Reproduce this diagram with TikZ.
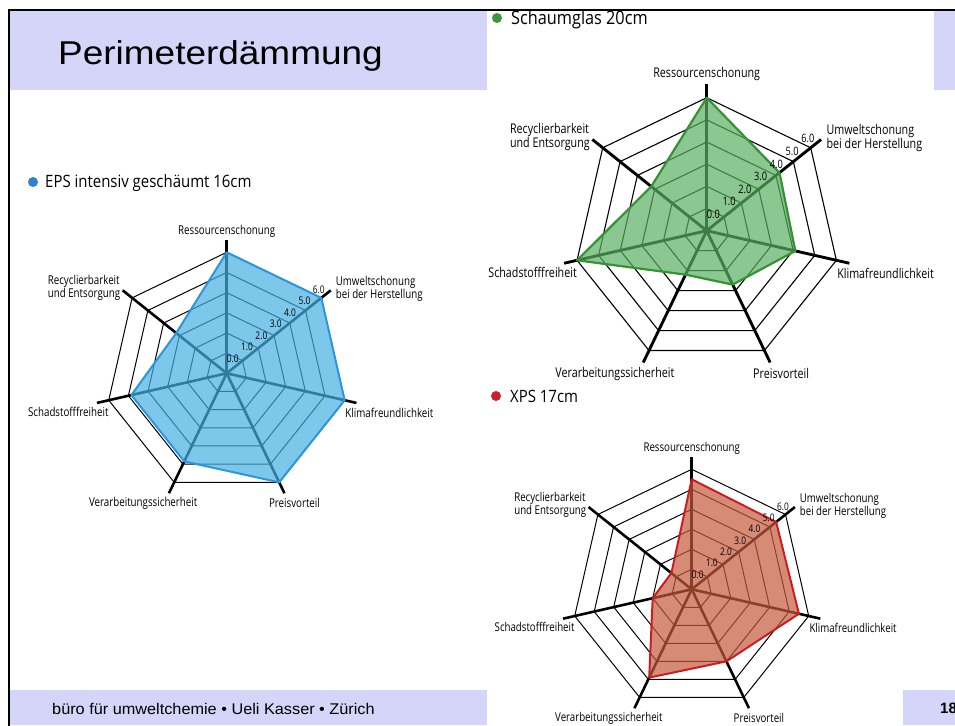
\documentclass[tikz,border=0pt]{standalone}
\usepackage{fontspec}
\setmainfont{Liberation Sans}
\newfontfamily\titlefont[FakeStretch=1.12]{Liberation Sans}
\newfontfamily\footfont[FakeStretch=1.05]{Liberation Sans}
\newfontfamily\chartfont[FakeStretch=0.8]{Open Sans}
\newfontfamily\headfont[FakeStretch=0.88]{Open Sans}

\definecolor{band}{RGB}{213,213,250}
\definecolor{epsfill}{RGB}{69,176,226}
\definecolor{epsline}{RGB}{45,150,220}
\definecolor{epsdot}{RGB}{50,130,195}
\definecolor{sgfill}{RGB}{91,176,98}
\definecolor{sgline}{RGB}{55,145,55}
\definecolor{sgdot}{RGB}{60,150,60}
\definecolor{xpsfill}{RGB}{198,91,62}
\definecolor{xpsline}{RGB}{200,30,35}
\definecolor{xpsdot}{RGB}{200,35,40}

\tikzset{
  lbl/.style={inner sep=0pt, font={\chartfont\fontsize{\rcfs}{\rcfb}\selectfont}},
  scl/.style={inner sep=0pt, font={\chartfont\fontsize{\rcfsc}{\rcfsc}\selectfont}},
  head/.style={inner sep=0pt, anchor=base west, font={\headfont\fontsize{17}{17}\selectfont}},
  bullet/.style={circle, inner sep=0pt, minimum size=10pt, fill=#1},
}

% #1 cx, #2 cy, #3 R (ring 6 radius), #4 values, #5 fill, #6 outline, #7 name prefix
\newcommand\radarchart[7]{%
\begin{scope}[shift={(#1,#2)}]
\pgfmathsetmacro\rcR{#3}
\pgfmathsetmacro\rcs{#3/121}
\pgfmathsetmacro\rcfs{12.2*\rcs}
\pgfmathsetmacro\rcfb{12.8*\rcs}
\pgfmathsetmacro\rcfsc{10.5*\rcs}
\pgfmathsetmacro\rclr{1.0*\rcs}
\pgfmathsetmacro\rcla{2.6*\rcs}
\pgfmathsetmacro\rclp{2.0*\rcs}
\def\rcvals{{#4}}
\foreach \k in {1,...,6}{
  \draw[line width=\rclr pt, line join=miter] (-90:{\k*\rcR/6})
    \foreach \i in {1,...,6}{ -- ({-90+\i*360/7}:{\k*\rcR/6})} -- cycle;
}
\foreach \i in {0,...,6}{
  \draw[line width=\rcla pt] (0,0) -- ({-90+\i*360/7}:{1.1*\rcR});
}
\fill[#5, fill opacity=0.7] (-90:{\rcvals[0]*\rcR/6})
    \foreach \i in {1,...,6}{ -- ({-90+\i*360/7}:{\rcvals[\i]*\rcR/6})} -- cycle;
\draw[#6, line width=\rclp pt, line join=round] (-90:{\rcvals[0]*\rcR/6})
    \foreach \i in {1,...,6}{ -- ({-90+\i*360/7}:{\rcvals[\i]*\rcR/6})} -- cycle;
\foreach \k in {0,...,6}{
  \node[scl] (#7s\k) at ({6*\rcs+\k*0.91*\rcR/6*cos(38.57)},{-15*\rcs-\k*0.91*\rcR/6*sin(38.57)}) {\k.0};
}
\node[lbl] (#7ress) at (0,{-1.175*\rcR}) {Ressourcenschonung};
\node[lbl, anchor=west, align=left] (#7umw) at ({0.90*\rcR},{-0.695*\rcR}) {Umweltschonung\\bei der Herstellung};
\node[lbl, anchor=west] (#7klima) at ({0.98*\rcR},{0.325*\rcR}) {Klimafreundlichkeit};
\node[lbl] (#7preis) at ({0.56*\rcR},{1.075*\rcR}) {Preisvorteil};
\node[lbl] (#7verarb) at ({-0.69*\rcR},{1.075*\rcR}) {Verarbeitungssicherheit};
\node[lbl, anchor=east] (#7schad) at ({-0.975*\rcR},{0.317*\rcR}) {Schadstofffreiheit};
\node[lbl, anchor=west, align=left] (#7recyc) at ({-1.48*\rcR},{-0.705*\rcR}) {Recyclierbarkeit\\und Entsorgung};
\end{scope}}

\begin{document}
\begin{tikzpicture}[x=1pt,y=-1pt]
\useasboundingbox (0,0) rectangle (955,725);
\fill[white] (0,0) rectangle (955,725);
% bands
\fill[band] (9,10.3) rectangle (955,89.5);
\fill[band] (9,690) rectangle (955,725);
% pasted images (white)
\fill[white] (487,11.3) rectangle (934,89.5);
\fill[white] (487,690) rectangle (903,725);
% slide border
\draw[line width=2pt] (9,726) -- (9,10.3) -- (956,10.3);
% title and footer
\node[inner sep=0pt, anchor=base west, font={\titlefont\fontsize{33}{33}\selectfont}] (title) at (58,65) {Perimeterdämmung};
\node[inner sep=0pt, anchor=base west, font={\footfont\fontsize{15.5}{15.5}\selectfont}] (foot) at (52,714) {büro für umweltchemie • Ueli Kasser • Zürich};
\node[inner sep=0pt, anchor=base west, font={\bfseries\fontsize{15}{15}\selectfont}] (page) at (940,713) {18};

% charts
\radarchart{226.7}{373.3}{121}{6,6,6,6,4.85,4.85,3.2}{epsfill}{epsline}{eps}
\radarchart{706.7}{230.7}{133}{6,4.2,4.1,2.7,2.2,6,3.2}{sgfill}{sgline}{sg}
\radarchart{691.7}{589.3}{120}{5.5,5.4,5.5,4.0,4.9,2.0,1.3}{xpsfill}{xpsline}{xps}

% headings
\node[bullet=epsdot] (b1) at (33,182) {};
\node[head] (h1) at (45,187) {EPS intensiv geschäumt 16cm};
\node[bullet=sgdot] (b2) at (497,18) {};
\node[head, font={\headfont\fontsize{18.5}{18.5}\selectfont}] (h2) at (511,25) {Schaumglas 20cm};
\node[bullet=xpsdot] (b3) at (496,396) {};
\node[head] (h3) at (510,402) {XPS 17cm};
\end{tikzpicture}
\end{document}
